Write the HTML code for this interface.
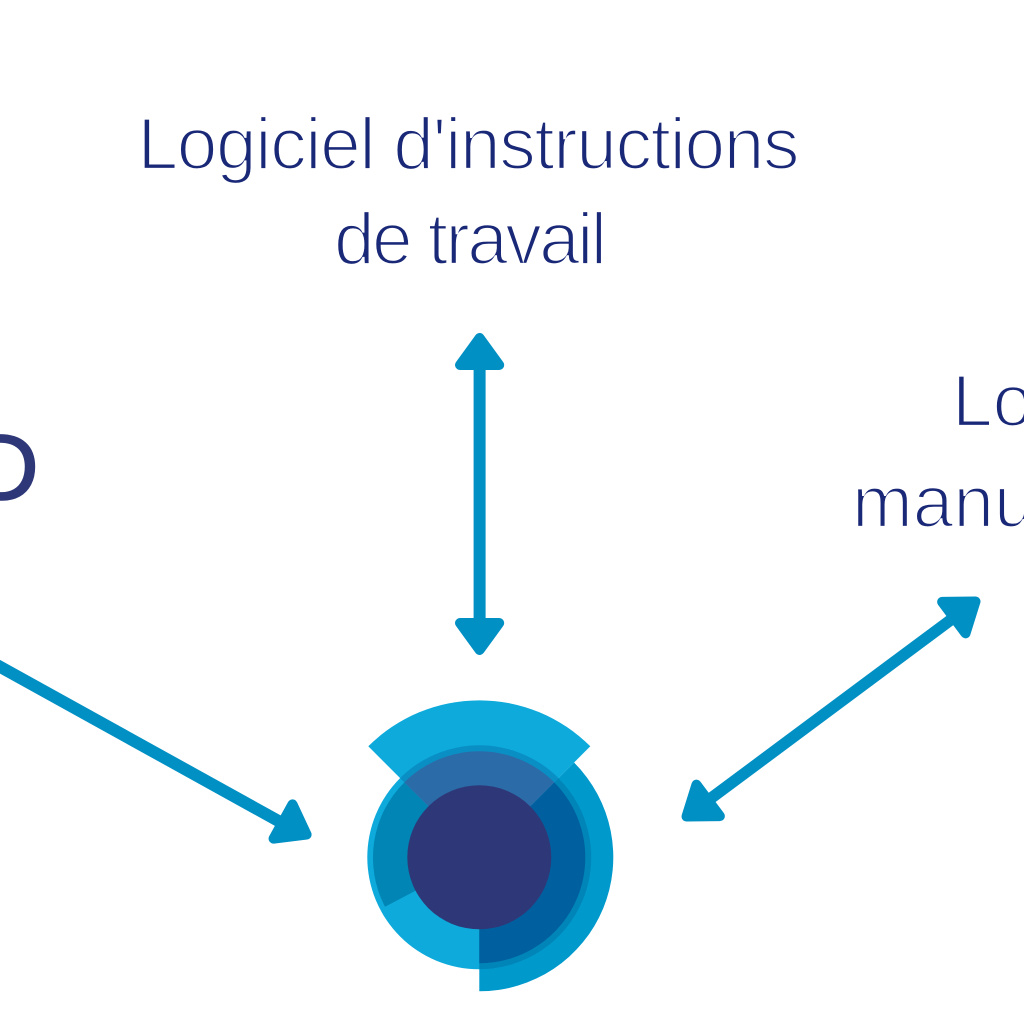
<!DOCTYPE html>
<html lang="fr">
<head>
<meta charset="utf-8">
<title>Diagramme</title>
<style>
html,body{margin:0;padding:0;background:#fff;width:1024px;height:1024px;overflow:hidden}
svg{display:block}
text{font-family:"Liberation Sans",sans-serif}
.t{font-size:73px;fill:#1A2878;stroke:#fff;stroke-width:2.3px}
</style>
</head>
<body>
<svg xmlns="http://www.w3.org/2000/svg" width="1024" height="1024" viewBox="0 0 1024 1024">
<rect width="1024" height="1024" fill="#fff"/>

<text class="t" x="137.5" y="169" textLength="662" lengthAdjust="spacing">Logiciel d'instructions</text>
<text class="t" x="334" y="264" textLength="273" lengthAdjust="spacing">de travail</text>
<text class="t" x="952" y="426">Logiciel</text>
<text class="t" x="852" y="527">manufacturier</text>
<text x="39" y="500" text-anchor="end" font-size="95" fill="#2E3878" stroke="#2E3878" stroke-width="1.5">CAD</text>

<!-- vertical arrow -->
<g fill="#0090C4" stroke="#0090C4" stroke-linejoin="round">
  <line x1="479.6" y1="350" x2="479.6" y2="640" stroke-width="12"/>
  <polygon points="479.6,338 460,365 499.2,365" stroke-width="10"/>
  <polygon points="479.6,650 460,623 499.2,623" stroke-width="10"/>
</g>

<!-- right diagonal arrow -->
<g fill="#0090C4" stroke="#0090C4" stroke-linejoin="round" transform="translate(979.5 598.5) rotate(-36.65)">
  <line x1="-20" y1="0" x2="-350" y2="0" stroke-width="11.5"/>
  <polygon points="-5,0 -32,-19.6 -32,19.6" stroke-width="10"/>
</g>
<g fill="#0090C4" stroke="#0090C4" stroke-linejoin="round" transform="translate(682.5 819.5) rotate(143.35)">
  <polygon points="-5,0 -32,-19.6 -32,19.6" stroke-width="10"/>
</g>

<!-- left diagonal arrow -->
<g fill="#0090C4" stroke="#0090C4" stroke-linejoin="round">
  <line x1="-10" y1="661.2" x2="285" y2="824.6" stroke-width="12"/>
  <polygon points="-5,0 -32,-19.6 -32,19.6" stroke-width="10" transform="translate(311 837) rotate(29)"/>
</g>

<!-- logo -->
<g transform="translate(479.3 857.3)">
  <path d="M0 0L94.75 -94.75A134 134 0 0 1 0 134Z" fill="#0099CC"/>
  <circle r="112" fill="#0DAADB"/>
  <path d="M0 0L79.2 -79.2A112 112 0 0 1 0 112Z" fill="#0085B8"/>
  <path d="M0 0L74.95 -74.95A106 106 0 0 1 0 106Z" fill="#00609F"/>
  <path d="M0 0L-74.95 -74.95A106 106 0 0 0 -94.3 49.4Z" fill="#0085B5"/>
  <path d="M0 0L-111 -111A157 157 0 0 1 111 -111Z" fill="#0DAADB"/>
  <path d="M0 0L-79.2 -79.2A112 112 0 0 1 79.2 -79.2Z" fill="#0A8FC5"/>
  <path d="M0 0L-74.95 -74.95A106 106 0 0 1 74.95 -74.95Z" fill="#2B6CA8"/>
  <circle r="72" fill="#2E3878"/>
</g>
</svg>
</body>
</html>
